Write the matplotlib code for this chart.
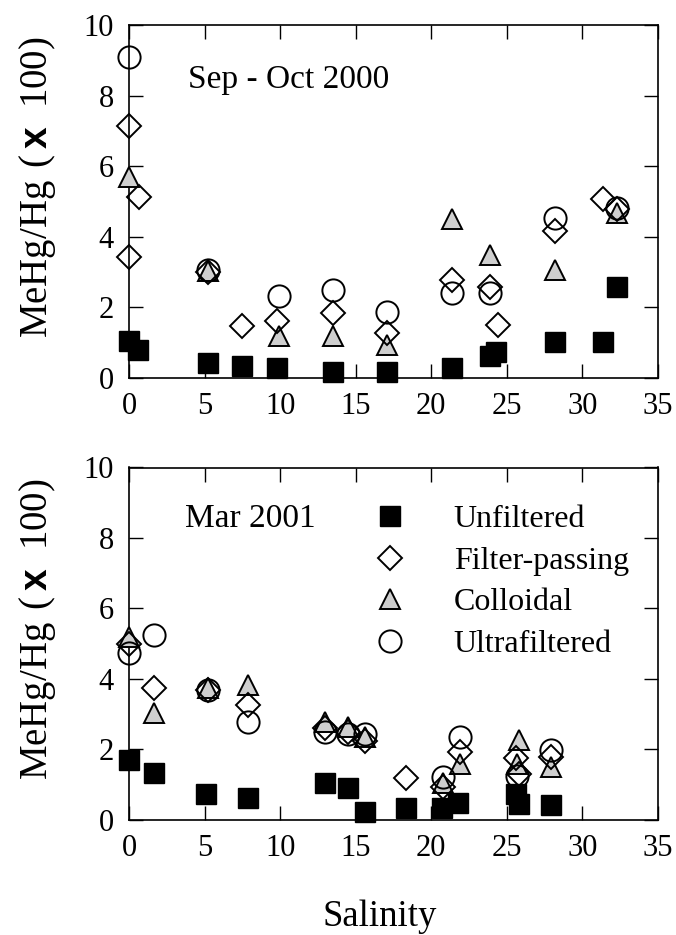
import matplotlib
matplotlib.use('Agg')
import matplotlib.pyplot as plt
from matplotlib.lines import Line2D

plt.rcParams['font.family'] = ['Liberation Serif', 'DejaVu Serif']
plt.rcParams['mathtext.fontset'] = 'custom'
plt.rcParams['mathtext.rm'] = 'Liberation Serif'
plt.rcParams['mathtext.bf'] = 'Liberation Sans:bold'

# Sep - Oct 2000
sal_unf_1 = [0, 0.6, 5.2, 7.5, 9.8, 13.5, 17.1, 21.4, 23.9, 24.3, 28.2, 31.4, 32.3]
unf_1 = [1.05, 0.8, 0.42, 0.32, 0.27, 0.16, 0.16, 0.27, 0.62, 0.72, 1.02, 1.02, 2.58]
sal_fp_1 = [0, 0, 0.65, 5.2, 7.5, 9.8, 13.5, 17.1, 21.4, 23.9, 24.4, 28.2, 31.4, 32.3]
fp_1 = [7.15, 3.42, 5.13, 3.0, 1.47, 1.6, 1.83, 1.26, 2.78, 2.58, 1.5, 4.15, 5.06, 4.8]
sal_col_1 = [0, 5.2, 9.9, 13.5, 17.1, 21.4, 23.9, 28.2, 32.3]
col_1 = [5.7, 3.03, 1.17, 1.17, 0.94, 4.5, 3.48, 3.06, 4.68]
sal_uf_1 = [0, 5.2, 9.9, 13.5, 17.1, 21.4, 23.9, 28.2, 32.3]
uf_1 = [9.1, 3.06, 2.33, 2.49, 1.87, 2.4, 2.4, 4.52, 4.82]

# Mar 2001
sal_unf_2 = [0, 1.65, 5.1, 7.9, 13.0, 14.5, 15.6, 18.3, 20.7, 21.8, 25.6, 25.8, 27.9]
unf_2 = [1.7, 1.32, 0.73, 0.62, 1.05, 0.9, 0.22, 0.33, 0.33, 0.48, 0.75, 0.45, 0.42]
sal_fp_2 = [0, 1.65, 5.2, 7.9, 13.0, 14.5, 15.6, 18.3, 20.8, 21.9, 25.6, 25.8, 27.9]
fp_2 = [5.0, 3.74, 3.7, 3.25, 2.6, 2.5, 2.25, 1.19, 0.95, 1.93, 1.75, 1.3, 1.8]
sal_col_2 = [0, 1.65, 5.2, 7.9, 13.0, 14.5, 15.6, 20.8, 21.9, 25.8, 25.7, 27.9]
col_2 = [5.2, 3.03, 3.75, 3.82, 2.78, 2.65, 2.35, 1.05, 1.6, 2.28, 1.58, 1.5]
sal_uf_2 = [0, 1.65, 5.2, 7.9, 13.0, 14.5, 15.6, 20.8, 21.9, 25.7, 27.9]
uf_2 = [4.75, 5.24, 3.68, 2.78, 2.5, 2.45, 2.45, 1.22, 2.35, 1.25, 1.98]

labels = ['Unfiltered', 'Filter-passing', 'Colloidal', 'Ultrafiltered']
ylab = r'$\mathrm{MeHg/Hg\ (}\,\mathbf{x}\ \,\mathrm{100)}$'

fig = plt.figure(figsize=(6.76, 9.35), dpi=100)
ax1 = fig.add_axes([0.191, 0.596, 0.782, 0.377])
ax2 = fig.add_axes([0.191, 0.123, 0.782, 0.377])

sq = dict(marker='s', ms=14.5, mfc='black', mec='black', mew=1.0, ls='none', clip_on=False)
di = dict(marker='D', ms=12.5, mfc='none', mec='black', mew=1.4, ls='none', clip_on=False)
tr = dict(marker='^', ms=15, mfc='#cfcfcf', mec='black', mew=1.4, ls='none', clip_on=False)
ci = dict(marker='o', ms=16, mfc='none', mec='black', mew=1.4, ls='none', clip_on=False)


def draw(ax, s_unf, unf, s_fp, fp, s_col, col, s_uf, uf):
    ax.plot(s_col, col, zorder=3, **tr)
    ax.plot(s_fp, fp, zorder=4, **di)
    ax.plot(s_uf, uf, zorder=5, **ci)
    ax.plot(s_unf, unf, zorder=6, **sq)
    ax.set_xlim(0, 35)
    ax.set_ylim(0, 10)
    ax.set_xticks(range(0, 36, 5))
    ax.set_yticks(range(0, 11, 2))
    ax.tick_params(direction='in', length=10, width=1, top=True, right=True,
                   labelsize=22)
    ax.tick_params(axis='x', pad=10)
    ax.tick_params(axis='y', pad=11)
    for sp in ax.spines.values():
        sp.set_linewidth(1.2)
    ax.set_ylabel(ylab, fontsize=28)
    ax.yaxis.set_label_coords(-0.135, 0.54)


draw(ax1, sal_unf_1, unf_1, sal_fp_1, fp_1, sal_col_1, col_1, sal_uf_1, uf_1)
draw(ax2, sal_unf_2, unf_2, sal_fp_2, fp_2, sal_col_2, col_2, sal_uf_2, uf_2)

ax1.text(0.112, 0.845, 'Sep - Oct 2000', transform=ax1.transAxes, fontsize=24, va='center')
ax2.text(0.106, 0.855, 'Mar 2001', transform=ax2.transAxes, fontsize=24, va='center')
ax2.set_xlabel('Salinity', fontsize=26.5)
ax2.xaxis.set_label_coords(0.474, -0.225)

handles = [
    Line2D([], [], **sq),
    Line2D([], [], **di),
    Line2D([], [], **tr),
    Line2D([], [], **ci),
]
ax2.legend(handles, labels, loc='upper left', bbox_to_anchor=(0.439, 0.93),
           frameon=False, fontsize=23, handletextpad=1.5, labelspacing=0.38,
           borderaxespad=0, handlelength=1.0)

fig.savefig('out.png', dpi=100)
